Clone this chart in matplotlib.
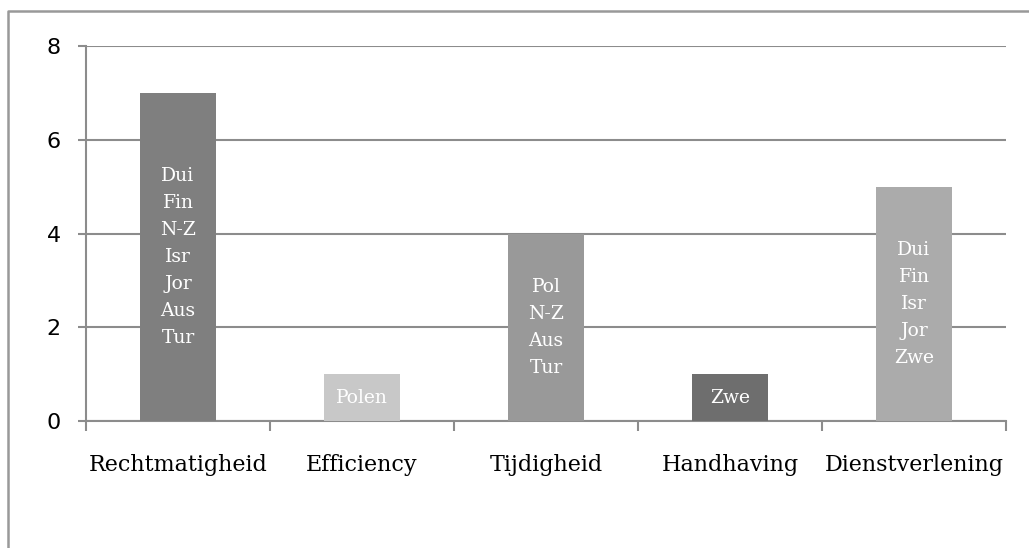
import matplotlib.pyplot as plt
from matplotlib.lines import Line2D

categories = ['Rechtmatigheid', 'Efficiency', 'Tijdigheid', 'Handhaving', 'Dienstverlening']
counts = [7, 1, 4, 1, 5]
countries = [
    ['Dui', 'Fin', 'N-Z', 'Isr', 'Jor', 'Aus', 'Tur'],
    ['Polen'],
    ['Pol', 'N-Z', 'Aus', 'Tur'],
    ['Zwe'],
    ['Dui', 'Fin', 'Isr', 'Jor', 'Zwe'],
]
colors = ['#7f7f7f', '#c8c8c8', '#999999', '#6e6e6e', '#ababab']
grid_col = '#8c8c8c'

fig = plt.figure(figsize=(10.29, 5.48), dpi=100)
W, H = 1029, 548
ax = fig.add_axes([86 / W, 1 - 421 / H, (1006 - 86) / W, (421 - 46) / H])

x = list(range(len(categories)))
bars = ax.bar(x, counts, width=0.41, color=colors, zorder=3)

for xi, h, lab in zip(x, counts, countries):
    ax.text(xi, h / 2, '\n'.join(lab), ha='center', va='center', color='white',
            family='DejaVu Serif', fontsize=13.5, linespacing=1.64, zorder=4)

ax.set_xlim(-0.5, len(categories) - 0.5)
ax.set_ylim(0, 8)
ax.set_yticks([0, 2, 4, 6, 8])
ax.yaxis.grid(True, color=grid_col, linewidth=1.5, zorder=1)
ax.set_axisbelow(True)

for s in ['top', 'right']:
    ax.spines[s].set_visible(False)
for s in ['left', 'bottom']:
    ax.spines[s].set_color(grid_col)
    ax.spines[s].set_linewidth(1.5)

ax.set_xticks(x)
ax.set_xticklabels(categories, family='DejaVu Serif', fontsize=16)
ax.tick_params(axis='x', which='major', length=0, pad=24)
ax.set_xticks([i - 0.5 for i in range(len(categories) + 1)], minor=True)
ax.tick_params(axis='x', which='minor', length=7, width=1.5, color=grid_col)
ax.tick_params(axis='y', length=6, width=1.5, color=grid_col, labelsize=16, pad=12)

# outer frame of the chart area (left and top edges only, rest is cut off)
fx, fy = 8 / W, 1 - 11 / H
fig.lines.append(Line2D([fx, fx, 1.0], [0.0, fy, fy], transform=fig.transFigure,
                        color='#999999', linewidth=1.8))

fig.savefig('out.png', dpi=100)
